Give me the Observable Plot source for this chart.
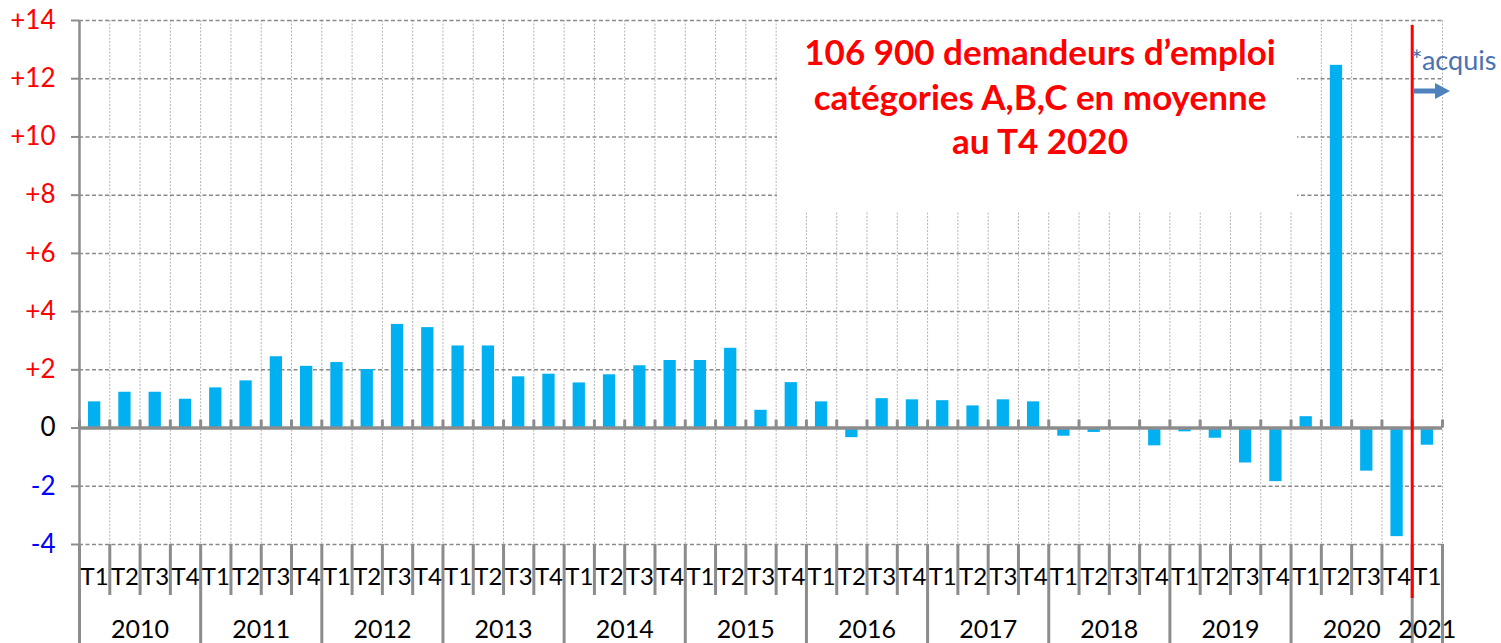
<!DOCTYPE html>
<html><head><meta charset="utf-8">
<script src="https://cdn.jsdelivr.net/npm/d3@7"></script>
<script src="https://cdn.jsdelivr.net/npm/@observablehq/plot@0.6"></script>
<style>
html,body{margin:0;padding:0;background:#fff;}
#wrap{position:relative;width:1501px;height:643px;overflow:hidden;}
#wrap svg.overlay{position:absolute;left:0;top:0;}
</style></head><body><div id="wrap"></div>
<script>
// ---- data ----
const years = ["2010","2011","2012","2013","2014","2015","2016","2017","2018","2019","2020","2021"];
const quarters = ["T1","T2","T3","T4"];
const values = [
  0.90, 1.23, 1.23, 0.99,
  1.38, 1.62, 2.45, 2.12,
  2.25, 2.01, 3.56, 3.45,
  2.82, 2.82, 1.76, 1.85,
  1.55, 1.83, 2.14, 2.32,
  2.32, 2.74, 0.61, 1.56,
  0.90, -0.33, 1.01, 0.97,
  0.94, 0.76, 0.97, 0.90,
  -0.28, -0.15, 0.00, -0.61,
  -0.13, -0.35, -1.20, -1.84,
  0.39, 12.46, -1.48, -3.73,
  -0.59
];
const yTicksPos = [2, 4, 6, 8, 10, 12, 14];
const yTicksZero = [0];
const yTicksNeg = [-2, -4];
const annotationLines = ["106 900 demandeurs d\u2019emploi", "catégories A,B,C en moyenne", "au T4 2020"];
const acquisLabel = "*acquis";

// ---- derived tables ----
const rows = values.map((v, i) => ({i, value: v, year: years[Math.floor(i / 4)], quarter: quarters[i % 4]}));
const yearRows = years.map(y => {
  const r = rows.filter(d => d.year === y);
  return {year: y, xc: d3.mean(r, d => d.i + 0.5)};
});
const n = rows.length;
const boundaries = d3.range(0, n + 1);
const yearBounds = boundaries.filter(b => b % 4 === 0 || b === n);
const quarterBounds = boundaries.filter(b => !yearBounds.includes(b));
const acquisStart = n - 1;

// ---- layout ----
const W = 1501, H = 643, MT = 20, MB = 99, ML = 79, MR = 59;
const frameH = H - MT - MB;
const gray = "#8c8c8c";

const chart = Plot.plot({
  width: W, height: H,
  marginTop: MT, marginBottom: MB, marginLeft: ML, marginRight: MR,
  style: {fontFamily: "Lato, sans-serif", background: "white", overflow: "visible", color: "#000"},
  x: {type: "linear", domain: [0, n], axis: null},
  y: {domain: [-4, 14], label: null},
  marks: [
    Plot.ruleX(boundaries.slice(1), {stroke: "#b4b4b4", strokeWidth: 1, strokeDasharray: "2,1.5"}),
    Plot.ruleY([...yTicksNeg, ...yTicksPos], {stroke: "#8a8a8a", strokeWidth: 1.5, strokeDasharray: "4,2.5"}),
    Plot.rectY(rows, {x1: "i", x2: d => d.i + 1, y: "value", fill: "#00b0f0", insetLeft: 9, insetRight: 9}),
    Plot.ruleX([0], {stroke: gray, strokeWidth: 2.5}),
    Plot.ruleY([0], {stroke: gray, strokeWidth: 3.5}),
    Plot.ruleX(boundaries, {x: d => d, y1: () => 0, y2: () => 0, insetTop: -8, stroke: gray, strokeWidth: 3}),
    Plot.ruleX(quarterBounds, {insetTop: frameH, insetBottom: -51, stroke: gray, strokeWidth: 3}),
    Plot.ruleX(yearBounds, {insetTop: frameH, insetBottom: -MB, stroke: gray, strokeWidth: 3}),
    Plot.axisY(yTicksPos, {tickSize: 8, tickPadding: 16, tickFormat: d => "+" + d, fontSize: 26, fill: "#ff0000", stroke: gray, strokeWidth: 2, label: null}),
    Plot.axisY(yTicksZero, {tickSize: 8, tickPadding: 16, tickFormat: d => String(d), fontSize: 26, fill: "#000000", stroke: gray, strokeWidth: 2, label: null}),
    Plot.axisY(yTicksNeg, {tickSize: 8, tickPadding: 16, tickFormat: d => String(d), fontSize: 26, fill: "#0000ff", stroke: gray, strokeWidth: 2, label: null}),
    Plot.text(rows, {x: d => d.i + 0.5, text: "quarter", frameAnchor: "bottom", dy: 40, fontSize: 24, fill: "#000"}),
    Plot.text(yearRows, {x: "xc", text: "year", frameAnchor: "bottom", dy: 93, fontSize: 25, fill: "#000"}),
    Plot.ruleX([acquisStart], {stroke: "#ff0000", strokeWidth: 3, insetTop: 5, insetBottom: -54})
  ]
});
const wrap = document.getElementById("wrap");
wrap.appendChild(chart);

// ---- annotation overlay ----
const ov = d3.select(wrap).append("svg").attr("class", "overlay").attr("width", W).attr("height", H);
ov.append("rect").attr("x", 777).attr("y", 22).attr("width", 520).attr("height", 190).attr("fill", "white");
const tx = ov.append("text").attr("font-family", "Lato, sans-serif").attr("font-weight", "bold")
  .attr("font-size", 35).attr("fill", "#ff0000").attr("text-anchor", "middle");
annotationLines.forEach((t, k) => {
  tx.append("tspan").attr("x", 1040).attr("y", [65, 110, 154][k]).text(t);
});
ov.append("text").attr("x", 1411).attr("y", 70).attr("font-family", "Lato, sans-serif")
  .attr("font-size", 27).attr("fill", "#4a72b0").text(acquisLabel);
ov.append("line").attr("x1", 1414).attr("y1", 91).attr("x2", 1438).attr("y2", 91)
  .attr("stroke", "#4f81bd").attr("stroke-width", 5);
ov.append("path").attr("d", "M1435,83 L1450,91 L1435,99 Z").attr("fill", "#4f81bd");
</script></body></html>
